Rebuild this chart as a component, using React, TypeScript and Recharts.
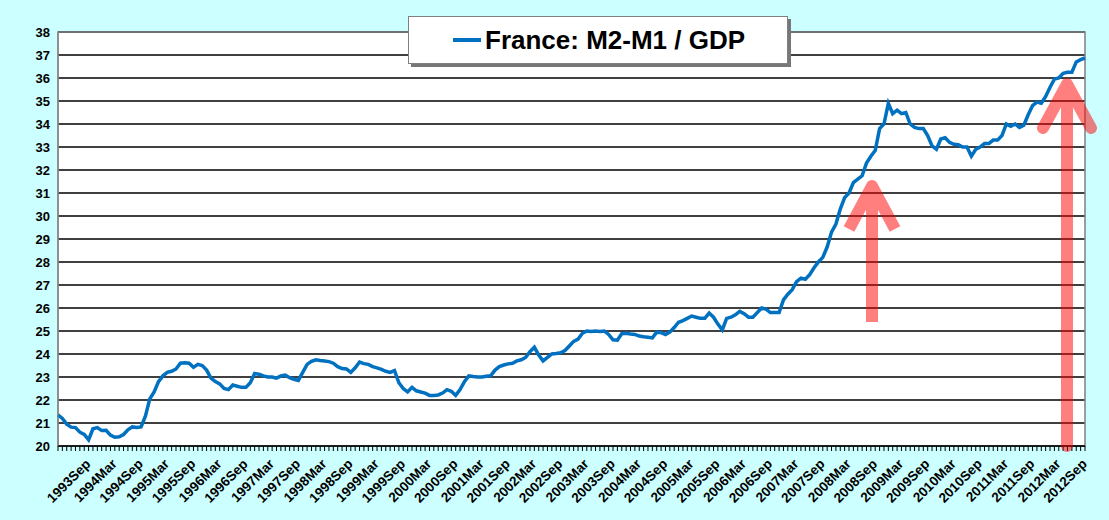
import React from "react";
import { LineChart, Line, XAxis, YAxis, CartesianGrid, ReferenceArea } from "recharts";

const MONTHS = ["Jan","Feb","Mar","Apr","May","Jun","Jul","Aug","Sep","Oct","Nov","Dec"];
const START_YEAR = 1993;
const START_MONTH = 1; // Feb (0-based)
const FIRST_LABEL = "1993Sep";

const ratio: number[] = [
  21.35, 21.2, 20.95, 20.82, 20.8, 20.6, 20.5, 20.27, 20.75, 20.8, 20.67,
  20.68, 20.47, 20.38, 20.4, 20.5, 20.7, 20.83, 20.8, 20.83, 21.3, 22.05, 22.35,
  22.8, 23.05, 23.2, 23.25, 23.35, 23.6, 23.62, 23.6, 23.42, 23.55, 23.5, 23.3,
  22.95, 22.8, 22.7, 22.5, 22.45, 22.65, 22.6, 22.55, 22.55, 22.75, 23.15, 23.12,
  23.05, 23.0, 23.0, 22.95, 23.05, 23.08, 22.97, 22.9, 22.85, 23.2, 23.55, 23.68,
  23.75, 23.72, 23.7, 23.67, 23.6, 23.45, 23.37, 23.35, 23.2, 23.4, 23.65, 23.58,
  23.55, 23.45, 23.4, 23.33, 23.25, 23.2, 23.28, 22.75, 22.5, 22.35, 22.55, 22.4,
  22.35, 22.3, 22.2, 22.2, 22.22, 22.3, 22.45, 22.38, 22.2, 22.45, 22.8, 23.05,
  23.02, 23.0, 23.0, 23.03, 23.05, 23.3, 23.45, 23.52, 23.57, 23.6, 23.7, 23.75,
  23.85, 24.1, 24.3, 23.95, 23.7, 23.85, 24.0, 24.02, 24.05, 24.15, 24.35, 24.55,
  24.65, 24.9, 25.0, 24.98, 25.0, 24.98, 25.0, 24.85, 24.62, 24.6, 24.88, 24.9,
  24.87, 24.85, 24.78, 24.75, 24.73, 24.7, 24.95, 24.93, 24.85, 24.95, 25.15, 25.38,
  25.45, 25.55, 25.65, 25.6, 25.55, 25.55, 25.78, 25.6, 25.3, 25.05, 25.55, 25.6,
  25.7, 25.85, 25.75, 25.6, 25.6, 25.8, 26.0, 25.95, 25.8, 25.8, 25.8, 26.35,
  26.6, 26.8, 27.15, 27.3, 27.25, 27.45, 27.75, 28.0, 28.2, 28.65, 29.3, 29.65,
  30.3, 30.8, 31.0, 31.45, 31.6, 31.75, 32.3, 32.6, 32.85, 33.8, 34.0, 34.9,
  34.45, 34.6, 34.45, 34.5, 34.0, 33.85, 33.8, 33.8, 33.5, 33.05, 32.9, 33.35,
  33.4, 33.2, 33.12, 33.1, 33.0, 33.0, 32.6, 32.9, 33.0, 33.15, 33.15, 33.3,
  33.3, 33.5, 34.0, 33.9, 34.0, 33.85, 33.95, 34.4, 34.8, 34.95, 34.9, 35.2,
  35.6, 35.95, 36.0, 36.2, 36.25, 36.25, 36.7, 36.8, 36.87,
];

const periods: string[] = ratio.map((_, i) => {
  const t = START_MONTH + i;
  return `${START_YEAR + Math.floor(t / 12)}${MONTHS[t % 12]}`;
});

const firstLabelIdx = periods.indexOf(FIRST_LABEL);

const yTicks = [20, 21, 22, 23, 24, 25, 26, 27, 28, 29, 30, 31, 32, 33, 34, 35, 36, 37, 38];

const data = periods.map((p, i) => ({ period: p, value: ratio[i] }));

const FONT = "'Liberation Sans', Arial, sans-serif";

const XTick = (props: any) => {
  const { x, y, payload, index } = props;
  const v: string = payload.value;
  if (index < firstLabelIdx || (index - firstLabelIdx) % 6 !== 0) return null;
  const ax = x - 4;
  const ay = y + 5;
  return (
    <text
      x={ax}
      y={ay}
      transform={`rotate(-45, ${ax}, ${ay})`}
      textAnchor="end"
      dominantBaseline="hanging"
      fontFamily={FONT}
      fontWeight="bold"
      fontSize={13.5}
      fill="#000"
    >
      {v}
    </text>
  );
};

export default function App() {
  return (
    <div style={{ position: "absolute", left: 0, top: 0, width: 1109, height: 520, background: "#CCFFFF", overflow: "hidden" }}>
      <LineChart width={1109} height={520} data={data} margin={{ top: 32, right: 24, bottom: 0, left: 0 }}>
        <CartesianGrid vertical={false} stroke="#000" strokeWidth={1.3} fill="#fff" fillOpacity={1} />
        <ReferenceArea y1={20} y2={38} fill="none" stroke="#808080" strokeWidth={1.5} ifOverflow="visible" />
        <XAxis
          dataKey="period"
          interval={0}
          tick={<XTick />}
          tickLine={{ stroke: "#000" }}
          tickSize={5}
          axisLine={{ stroke: "#000", strokeWidth: 1.5 }}
          height={74}
        />
        <YAxis
          domain={[20, 38]}
          ticks={yTicks}
          interval={0}
          width={58}
          axisLine={{ stroke: "#808080" }}
          tickLine={false}
          tick={{ fontFamily: FONT, fontWeight: "bold", fontSize: 13, fill: "#000" }}
        />
        <Line type="linear" dataKey="value" stroke="#0070C0" strokeWidth={3.5} dot={false} isAnimationActive={false} />
      </LineChart>
      <svg width={1109} height={520} style={{ position: "absolute", left: 0, top: 0, pointerEvents: "none" }}>
        <g opacity={0.5} stroke="#FF0000" fill="none" strokeLinecap="round" strokeLinejoin="round">
          <path d="M872 322 L872 186 M849 229 L872 186 L895 229" strokeWidth={12} strokeLinecap="butt" />
          <path d="M1067 446 L1067 84 M1043 128 L1067 84 L1091 128" strokeWidth={12} />
        </g>
      </svg>
      <div
        style={{
          position: "absolute", left: 408, top: 16, width: 380, height: 48, background: "#fff",
          border: "1px solid #808080", boxShadow: "3px 3px 0 #777", display: "flex", alignItems: "center",
          fontFamily: FONT, fontWeight: "bold", fontSize: 26, boxSizing: "border-box",
        }}
      >
        <div style={{ width: 28, height: 3.5, background: "#0070C0", marginLeft: 44, marginRight: 4 }} />
        <span>France: M2-M1 / GDP</span>
      </div>
    </div>
  );
}
